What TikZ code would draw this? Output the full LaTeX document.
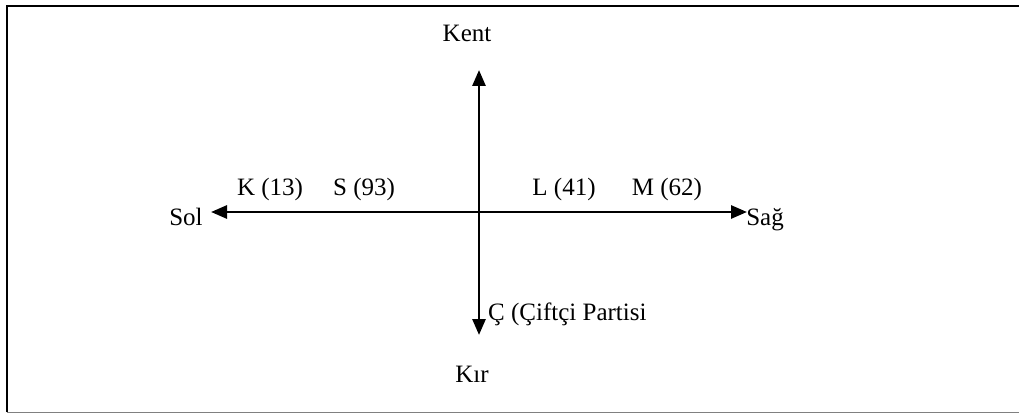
\documentclass[tikz,border=0pt]{standalone}
\usepackage{fontspec}
\setmainfont{Liberation Serif}
\usetikzlibrary{arrows.meta}
\begin{document}
\begin{tikzpicture}[x=1pt,y=-1pt,
  lbl/.style={anchor=base,inner sep=0pt,font=\fontsize{25}{29}\selectfont},
  axis/.style={line width=2.8pt,-{Triangle[length=16pt,width=13pt]}}]
\useasboundingbox (0,0) rectangle (1019,414);
\fill[white] (0,0) rectangle (1019,414);
\draw[line width=2.8pt] (7,412) -- (7,6) -- (1030,6);
\draw[line width=1.4pt,gray] (7,412.5) -- (1030,412.5);
\coordinate (o) at (479,212);
\coordinate (left) at (211,212);
\coordinate (right) at (747,212);
\coordinate (up) at (479,70);
\coordinate (down) at (479,335);
\draw[axis] (o) -- (left);
\draw[axis] (o) -- (right);
\draw[axis] (o) -- (up);
\draw[axis] (o) -- (down);
\node[lbl] (kent) at (467,42) {Kent};
\node[lbl] (kir) at (472,382) {Kır};
\node[lbl] (sol) at (186,225) {Sol};
\node[lbl] (sag) at (765,225) {Sağ};
\node[lbl] (k) at (270,196) {K (13)};
\node[lbl] (s) at (364,196) {S (93)};
\node[lbl] (l) at (564,196) {L (41)};
\node[lbl] (m) at (667,196) {M (62)};
\node[lbl,anchor=base west] (c) at (488,320) {Ç (Çiftçi Partisi};
\end{tikzpicture}
\end{document}
